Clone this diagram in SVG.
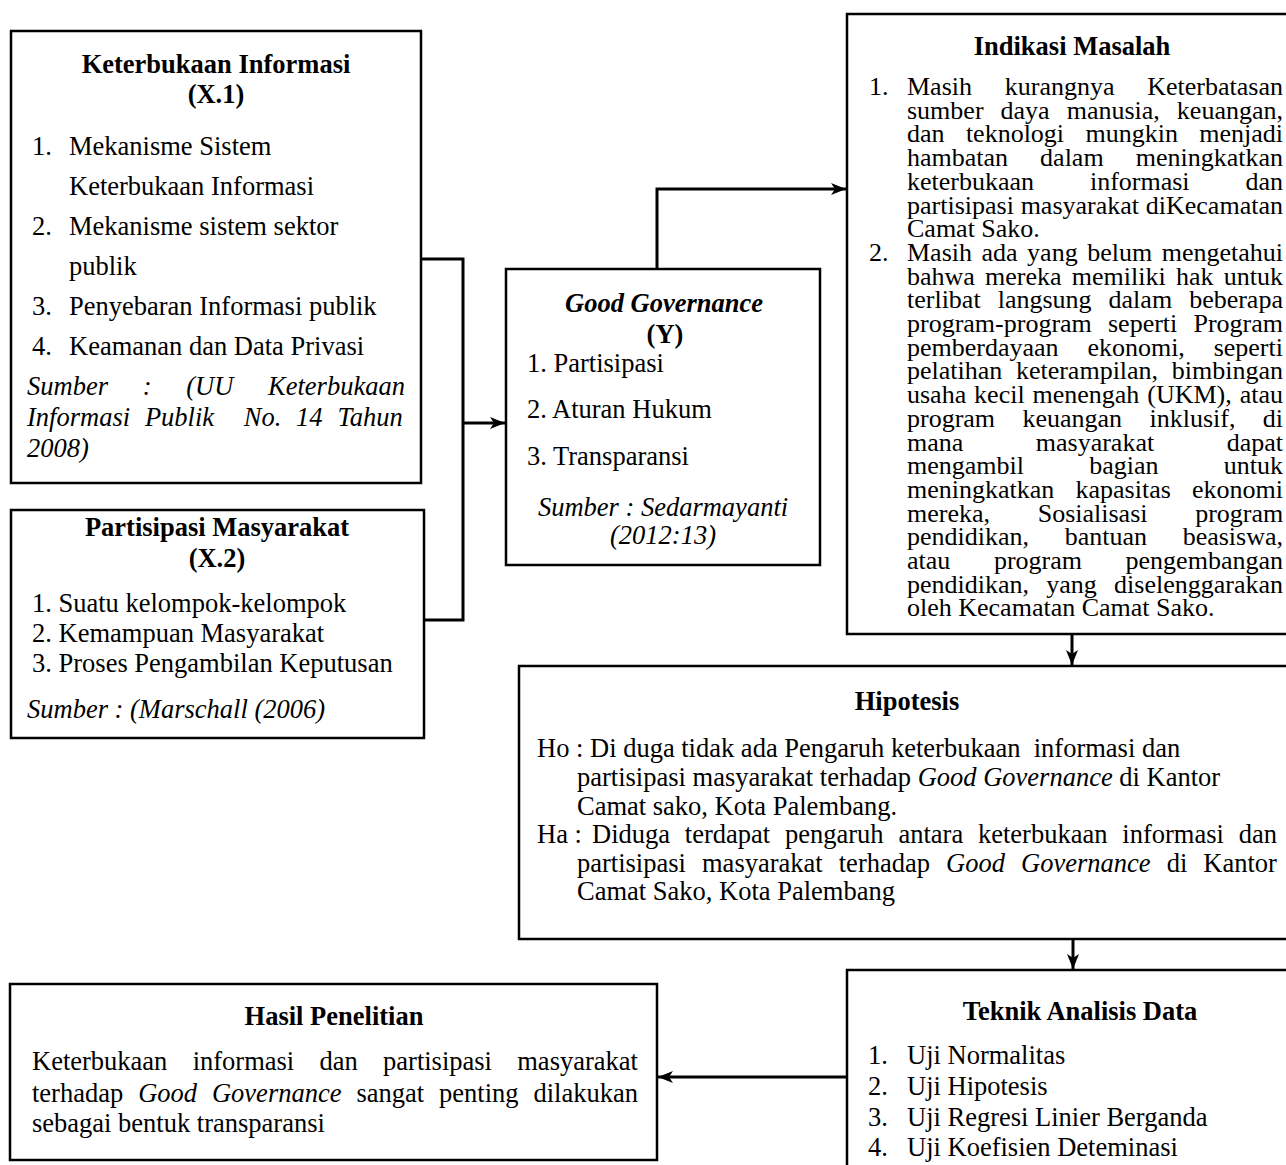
<svg xmlns="http://www.w3.org/2000/svg" width="1286" height="1165" viewBox="0 0 1286 1165">
<style>
.t{font-family:"Liberation Serif","Times New Roman",serif;font-size:26.5px;fill:#000}
.s{font-size:26px}
.b{font-weight:bold}
.i{font-style:italic}
.c{text-anchor:middle}
.box{fill:#fff;stroke:#000;stroke-width:2.5}
.conn{fill:none;stroke:#000;stroke-width:3}
</style>
<defs>
<marker id="arr" markerUnits="userSpaceOnUse" markerWidth="16" markerHeight="14" refX="15" refY="7" orient="auto">
<path d="M0,1 L15,7 L0,13 L4,7 z" fill="#000"/>
</marker>
</defs>
<rect width="1286" height="1165" fill="#fff"/>

<g id="connectors">
<polyline class="conn" points="421,259 463,259 463,620 424,620"/>
<line class="conn" x1="463" y1="423" x2="505" y2="423" marker-end="url(#arr)"/>
<polyline class="conn" points="657,269 657,189 846,189" marker-end="url(#arr)"/>
<line class="conn" x1="1072" y1="634" x2="1072" y2="665" marker-end="url(#arr)"/>
<line class="conn" x1="1073" y1="939" x2="1073" y2="969" marker-end="url(#arr)"/>
<line class="conn" x1="847" y1="1077" x2="658" y2="1077" marker-end="url(#arr)"/>
</g>

<g id="keterbukaan">
<rect class="box" x="11" y="31" width="410" height="452"/>
<text class="t b c" x="216" y="73">Keterbukaan Informasi</text>
<text class="t b c" x="216" y="103">(X.1)</text>
<text class="t" x="32" y="155">1.</text><text class="t" x="69" y="155">Mekanisme Sistem</text>
<text class="t" x="69" y="195">Keterbukaan Informasi</text>
<text class="t" x="32" y="235">2.</text><text class="t" x="69" y="235">Mekanisme sistem sektor</text>
<text class="t" x="69" y="275">publik</text>
<text class="t" x="32" y="315">3.</text><text class="t" x="69" y="315">Penyebaran Informasi publik</text>
<text class="t" x="32" y="355">4.</text><text class="t" x="69" y="355">Keamanan dan Data Privasi</text>
<text class="t i" x="27" y="395" style="word-spacing:28.1px">Sumber : (UU Keterbukaan</text>
<text class="t i" x="27" y="426" xml:space="preserve" style="word-spacing:8.2px">Informasi Publik  No. 14 Tahun</text>
<text class="t i" x="27" y="457">2008)</text>
</g>

<g id="partisipasi">
<rect class="box" x="11" y="510" width="413" height="228"/>
<text class="t b c" x="217" y="536">Partisipasi Masyarakat</text>
<text class="t b c" x="217" y="567">(X.2)</text>
<text class="t" x="32" y="612">1. Suatu kelompok-kelompok</text>
<text class="t" x="32" y="642">2. Kemampuan Masyarakat</text>
<text class="t" x="32" y="672">3. Proses Pengambilan Keputusan</text>
<text class="t i" x="27" y="718">Sumber : (Marschall (2006)</text>
</g>

<g id="goodgovernance">
<rect class="box" x="506" y="269" width="314" height="296"/>
<text class="t b i c" x="664" y="312">Good Governance</text>
<text class="t b c" x="665" y="343">(Y)</text>
<text class="t" x="527" y="372">1. Partisipasi</text>
<text class="t" x="527" y="418">2. Aturan Hukum</text>
<text class="t" x="527" y="465">3. Transparansi</text>
<text class="t i c" x="663" y="516">Sumber : Sedarmayanti</text>
<text class="t i c" x="663" y="544">(2012:13)</text>
</g>

<g id="indikasi">
<rect class="box" x="847" y="14" width="470" height="620"/>
<text class="t b c" x="1072" y="55">Indikasi Masalah</text>
<text class="t s" x="869" y="95">1.</text>
<text class="t s" x="907" y="95" style="word-spacing:26.27px">Masih kurangnya Keterbatasan</text>
<text class="t s" x="907" y="118.7" style="word-spacing:10.53px">sumber daya manusia, keuangan,</text>
<text class="t s" x="907" y="142.4" style="word-spacing:14.84px">dan teknologi mungkin menjadi</text>
<text class="t s" x="907" y="166.1" style="word-spacing:25.53px">hambatan dalam meningkatkan</text>
<text class="t s" x="907" y="189.8" style="word-spacing:49.37px">keterbukaan informasi dan</text>
<text class="t s" x="907" y="213.5" style="word-spacing:0.27px">partisipasi masyarakat diKecamatan</text>
<text class="t s" x="907" y="237.2">Camat Sako.</text>
<text class="t s" x="869" y="260.9">2.</text>
<text class="t s" x="907" y="260.9" style="word-spacing:3.02px">Masih ada yang belum mengetahui</text>
<text class="t s" x="907" y="284.6" style="word-spacing:3.74px">bahwa mereka memiliki hak untuk</text>
<text class="t s" x="907" y="308.3" style="word-spacing:10.53px">terlibat langsung dalam beberapa</text>
<text class="t s" x="907" y="332" style="word-spacing:9.66px">program-program seperti Program</text>
<text class="t s" x="907" y="355.7" style="word-spacing:22.3px">pemberdayaan ekonomi, seperti</text>
<text class="t s" x="907" y="379.4" style="word-spacing:7.11px">pelatihan keterampilan, bimbingan</text>
<text class="t s" x="907" y="403.1" style="word-spacing:1.4px">usaha kecil menengah (UKM), atau</text>
<text class="t s" x="907" y="426.8" style="word-spacing:20.87px">program keuangan inklusif, di</text>
<text class="t s" x="907" y="450.5" style="word-spacing:65.99px">mana masyarakat dapat</text>
<text class="t s" x="907" y="474.2" style="word-spacing:58.73px">mengambil bagian untuk</text>
<text class="t s" x="907" y="497.9" style="word-spacing:14.69px">meningkatkan kapasitas ekonomi</text>
<text class="t s" x="907" y="521.6" style="word-spacing:41.18px">mereka, Sosialisasi program</text>
<text class="t s" x="907" y="545.3" style="word-spacing:29.15px">pendidikan, bantuan beasiswa,</text>
<text class="t s" x="907" y="569" style="word-spacing:37.1px">atau program pengembangan</text>
<text class="t s" x="907" y="592.7" style="word-spacing:10.74px">pendidikan, yang diselenggarakan</text>
<text class="t s" x="907" y="616.4">oleh Kecamatan Camat Sako.</text>
</g>

<g id="hipotesis">
<rect class="box" x="519" y="666" width="780" height="273"/>
<text class="t b c" x="907" y="710">Hipotesis</text>
<text class="t" x="537" y="757" xml:space="preserve">Ho : Di duga tidak ada Pengaruh keterbukaan  informasi dan</text>
<text class="t" x="577" y="786">partisipasi masyarakat terhadap <tspan class="i">Good Governance</tspan> di Kantor</text>
<text class="t" x="577" y="815">Camat sako, Kota Palembang.</text>
<text class="t" x="537" y="843">Ha :</text>
<text class="t" x="592" y="843" style="word-spacing:8.2px">Diduga terdapat pengaruh antara keterbukaan informasi dan</text>
<text class="t" x="577" y="872" style="word-spacing:9.46px">partisipasi masyarakat terhadap <tspan class="i">Good Governance</tspan> di Kantor</text>
<text class="t" x="577" y="900">Camat Sako, Kota Palembang</text>
</g>

<g id="teknik">
<rect class="box" x="847" y="970" width="470" height="230"/>
<text class="t b c" x="1080" y="1020">Teknik Analisis Data</text>
<text class="t" x="868" y="1064">1.</text><text class="t" x="907" y="1064">Uji Normalitas</text>
<text class="t" x="868" y="1095">2.</text><text class="t" x="907" y="1095">Uji Hipotesis</text>
<text class="t" x="868" y="1126">3.</text><text class="t" x="907" y="1126">Uji Regresi Linier Berganda</text>
<text class="t" x="868" y="1156">4.</text><text class="t" x="907" y="1156">Uji Koefisien Deteminasi</text>
</g>

<g id="hasil">
<rect class="box" x="10" y="984" width="647" height="176"/>
<text class="t b c" x="334" y="1025">Hasil Penelitian</text>
<text class="t" x="32" y="1070" style="word-spacing:18.66px">Keterbukaan informasi dan partisipasi masyarakat</text>
<text class="t" x="32" y="1102" style="word-spacing:8.3px">terhadap <tspan class="i">Good Governance</tspan> sangat penting dilakukan</text>
<text class="t" x="32" y="1132">sebagai bentuk transparansi</text>
</g>
</svg>
